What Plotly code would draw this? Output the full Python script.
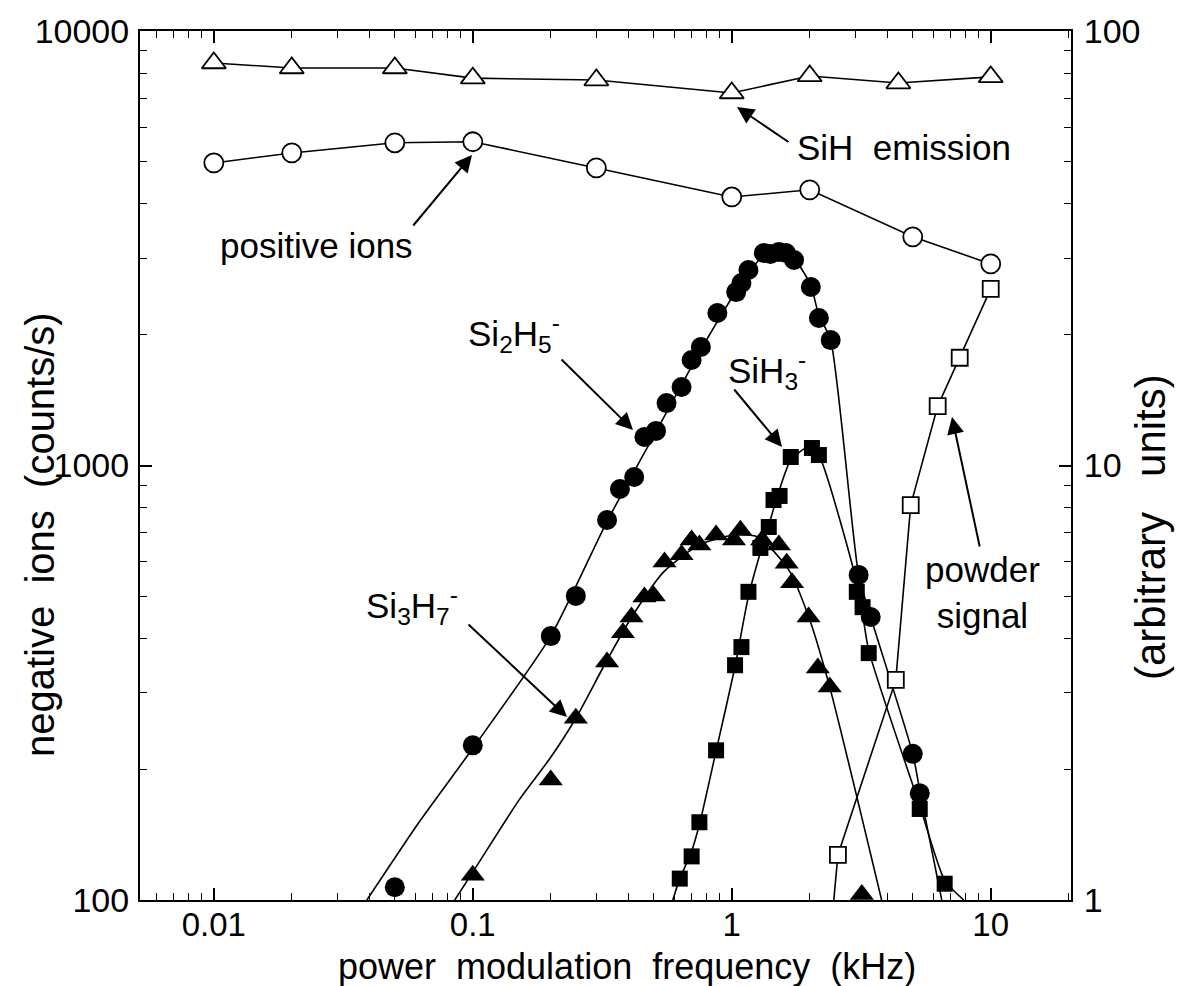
import plotly.graph_objects as go

# ---------------- data ----------------
# x in kHz; negative ions in counts/s (left axis); others in arbitrary units (right axis)
si2h5_x = [0.05, 0.1, 0.2, 0.25, 0.33, 0.37, 0.42, 0.46, 0.51, 0.56, 0.64, 0.70, 0.76, 0.88,
           1.04, 1.09, 1.16, 1.33, 1.41, 1.52, 1.62, 1.74, 2.02, 2.17, 2.41, 3.09, 3.44, 5.0, 5.32]
si2h5_y = [107, 227, 405, 501, 749, 883, 941, 1163, 1201, 1392, 1516, 1749, 1874, 2244,
           2507, 2630, 2818, 3083, 3069, 3100, 3083, 2972, 2575, 2185, 1944, 560, 448, 217, 176]
si2h5_fit_x = [0.039, 0.062, 0.102, 0.2, 0.329, 0.509, 0.759, 1.036, 1.329, 1.519, 1.735,
               2.018, 2.167, 2.41, 3.09, 3.44, 5.0, 5.32, 6.47]
si2h5_fit_y = [100, 151, 227, 405, 741, 1194, 1844, 2507, 3051, 3133, 3002,
               2603, 2220, 1944, 560, 448, 217, 179, 100]

si3h7_x = [0.1, 0.2, 0.25, 0.33, 0.38, 0.41, 0.46, 0.50, 0.55, 0.64, 0.70, 0.75, 0.87, 1.02,
           1.08, 1.31, 1.52, 1.63, 1.71, 1.98, 2.15, 2.39, 3.18]
si3h7_y = [114, 189, 262, 353, 412, 448, 498, 501, 600, 623, 674, 656, 692, 674,
           710, 674, 656, 596, 537, 448, 342, 309, 103]
si3h7_fit_x = [0.0852, 0.101, 0.151, 0.2, 0.25, 0.327, 0.411, 0.546, 0.746, 1.018, 1.271,
               1.66, 1.983, 2.39, 3.79]
si3h7_fit_y = [100, 117, 170, 213, 262, 353, 448, 569, 656, 692, 684,
               575, 448, 309, 100]

sih3_x = [0.63, 0.70, 0.75, 0.87, 1.03, 1.09, 1.16, 1.29, 1.39, 1.45, 1.53, 1.69, 2.04, 2.17,
          3.04, 3.20, 3.38, 5.32, 6.64]
sih3_y = [112, 126, 151, 221, 347, 382, 512, 646, 722, 833, 851, 1046, 1097, 1057,
          512, 472, 370, 162, 109]
sih3_fit_x = [0.592, 0.63, 0.695, 0.752, 0.868, 1.027, 1.163, 1.389, 1.69, 1.983, 2.167,
              3.09, 3.38, 5.32, 6.64, 7.87]
sih3_fit_y = [100, 112, 128, 150, 219, 342, 503, 729, 1030, 1103, 1057,
              517, 376, 165, 111, 100]

sih_em_x = [0.01, 0.02, 0.05, 0.1, 0.3, 1, 2, 4.4, 10]
sih_em_y = [84.4, 82.2, 82.2, 77.9, 77.1, 72.0, 78.8, 75.9, 78.4]

pos_x = [0.01, 0.02, 0.05, 0.1, 0.3, 1, 2, 5, 10]
pos_y = [49.7, 52.4, 55.3, 55.6, 48.4, 41.5, 43.1, 33.6, 29.1]

powder_x = [2.57, 4.3, 4.91, 6.24, 7.59, 10]
powder_y = [1.27, 3.21, 8.11, 13.7, 17.7, 25.5]
powder_line_x = [2.47, 2.57, 4.3, 4.91, 6.24, 7.59, 10]
powder_line_y = [0.98, 1.27, 3.21, 8.11, 13.7, 17.7, 25.5]

x_tickvals = [0.01, 0.1, 1, 10]
x_ticktext = ["0.01", "0.1", "1", "10"]
x_minor = [m * d for d in (0.001, 0.01, 0.1, 1, 10) for m in range(2, 10)]
yl_tickvals = [100, 1000, 10000]
yl_minor = [m * d for d in (100, 1000) for m in range(2, 10)]
yr_tickvals = [1, 10, 100]
yr_minor = [m * d for d in (1, 10) for m in range(2, 10)]

# ---------------- figure ----------------
FONT = "Liberation Sans, Arial, Helvetica, sans-serif"
BLACK = "black"
LW = 1.6

fig = go.Figure()

def line(x, y, yaxis="y", spline=True):
    fig.add_trace(go.Scatter(
        x=x, y=y, mode="lines", yaxis=yaxis, showlegend=False, cliponaxis=True,
        line=dict(color=BLACK, width=LW, shape="spline" if spline else "linear",
                  smoothing=0.6)))

def marks(x, y, symbol, size, yaxis="y", open_=False):
    fig.add_trace(go.Scatter(
        x=x, y=y, mode="markers", yaxis=yaxis, showlegend=False, cliponaxis=True,
        marker=dict(symbol=symbol, size=size,
                    color="white" if open_ else BLACK,
                    line=dict(color=BLACK, width=1.8 if open_ else 0))))

# fitted curves for negative ions
line(si2h5_fit_x, si2h5_fit_y)
line(si3h7_fit_x, si3h7_fit_y)
line(sih3_fit_x, sih3_fit_y)
# right-axis series lines
line(sih_em_x, sih_em_y, "y2", spline=False)
line(pos_x, pos_y, "y2", spline=False)
line(powder_line_x, powder_line_y, "y2", spline=False)

# markers
marks(si2h5_x, si2h5_y, "circle", 20)
marks(si3h7_x, si3h7_y, "triangle-up", 21)
marks(sih3_x, sih3_y, "square", 16)
marks(sih_em_x, sih_em_y, "triangle-up", 21, "y2", open_=True)
marks(pos_x, pos_y, "circle", 19, "y2", open_=True)
marks(powder_x, powder_y, "square", 16, "y2", open_=True)

L, R, T, B = 140, 107, 31, 86
W, H = 1178, 986
PW, PH = W - L - R, H - T - B

def px(xp):
    return (xp - L) / PW

def py(yp):
    return (H - B - yp) / PH

annotations = []
def arrow(tip, tail):
    annotations.append(dict(
        x=px(tip[0]), y=py(tip[1]), xref="paper", yref="paper", text="",
        showarrow=True, arrowhead=2, arrowsize=1.7, arrowwidth=2, arrowcolor=BLACK,
        ax=tail[0] - tip[0], ay=tail[1] - tip[1]))

ANN = 35
def label(pos, text, xanchor="center", size=ANN, angle=0):
    annotations.append(dict(
        x=px(pos[0]), y=py(pos[1]), xref="paper", yref="paper", text=text,
        showarrow=False, xanchor=xanchor, yanchor="middle", textangle=angle,
        font=dict(family=FONT, size=size, color=BLACK)))

arrow((737, 107), (790, 143))
label((795, 148), "SiH\u00a0\u00a0emission", xanchor="left")
arrow((472, 155), (412, 227))
label((316, 246), "positive ions")
arrow((633, 430), (560, 358))
label((514, 333), "Si<sub>2</sub>H<sub>5</sub><sup>-</sup>")
arrow((782, 447), (733, 388))
label((767, 370), "SiH<sub>3</sub><sup>-</sup>")
arrow((567, 717), (467, 623))
label((412, 605), "Si<sub>3</sub>H<sub>7</sub><sup>-</sup>")
arrow((952, 417), (980, 548))
label((982, 592), "powder<br>signal")

# axis titles (placed as text so their position matches the original)
label((40, 535), "negative\u00a0\u00a0ions\u00a0\u00a0(counts/s)", size=40, angle=-90)
label((1150, 527), "(arbitrary\u00a0\u00a0\u00a0units)", size=42, angle=-90)
label((627, 966), "power\u00a0\u00a0modulation\u00a0\u00a0frequency\u00a0\u00a0(kHz)", size=36)

axis_common = dict(
    type="log", showline=True, linecolor=BLACK, linewidth=2, ticks="inside",
    ticklen=12, tickwidth=1.5, tickcolor=BLACK, showgrid=False, zeroline=False,
    tickfont=dict(family=FONT, size=34, color=BLACK),
)
minor_common = dict(ticks="inside", ticklen=7, tickwidth=1.2, tickcolor=BLACK, showgrid=False)

fig.update_layout(
    width=W, height=H, margin=dict(l=L, r=R, t=T, b=B, pad=0),
    paper_bgcolor="white", plot_bgcolor="white",
    font=dict(family=FONT, size=34, color=BLACK),
    xaxis=dict(axis_common, range=[-2.285, 1.31], mirror="ticks",
               tickvals=x_tickvals, ticktext=x_ticktext,
               tickfont=dict(family=FONT, size=33, color=BLACK),
               minor=dict(minor_common, tickvals=x_minor), ticklabelstandoff=-6),
    yaxis=dict(axis_common, range=[2, 4], tickvals=yl_tickvals,
               ticktext=["100", "1000", "10000"],
               minor=dict(minor_common, tickvals=yl_minor), ticklabelstandoff=2),
    yaxis2=dict(axis_common, range=[0, 2], overlaying="y", side="right",
                tickvals=yr_tickvals, ticktext=["1", "10", "100"],
                minor=dict(minor_common, tickvals=yr_minor), ticklabelstandoff=4),
    annotations=annotations,
)

fig.write_html("out.html")
